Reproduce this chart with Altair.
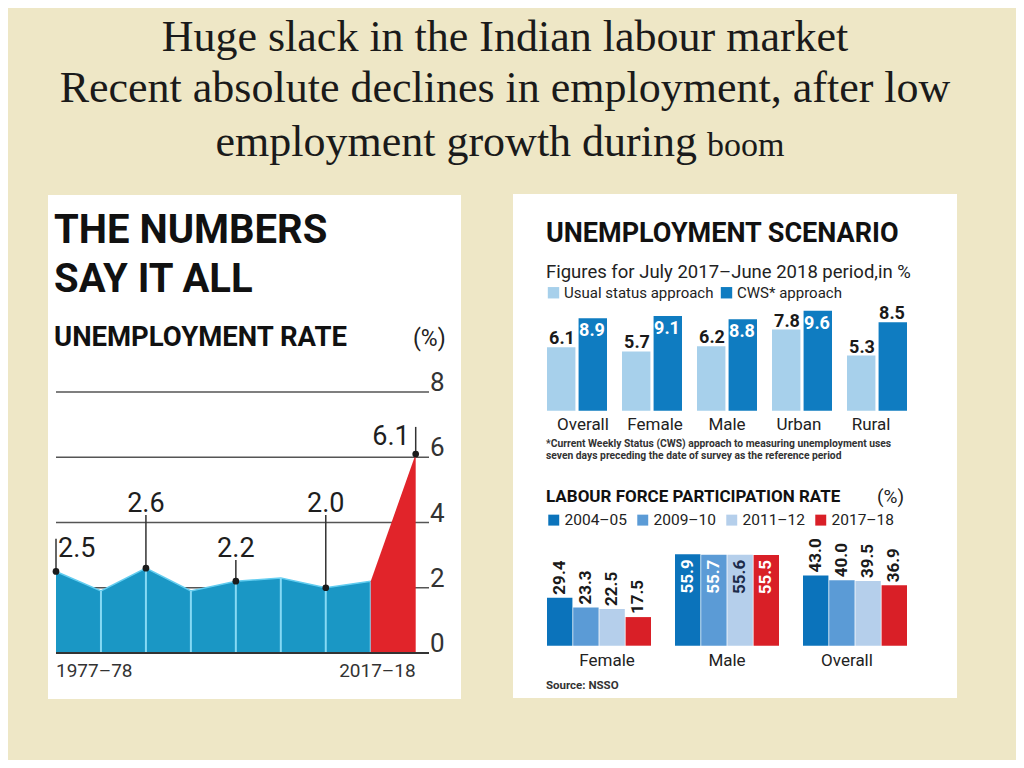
import altair as alt
import pandas as pd

# ---------------- data ----------------
periods = ["1977–78", "1983", "1987–88", "1993–94", "1999–2000", "2004–05", "2009–10", "2011–12", "2017–18"]
unemp_rate = [2.5, 1.9, 2.6, 1.9, 2.2, 2.3, 2.0, 2.2, 6.1]
annotated_idx = [0, 2, 4, 6, 8]
annotation_level = [2.95, 4.33, 2.95, 4.33, 6.38]   # height (in %) of each value label
grid_ticks = [0, 2, 4, 6, 8]

scen_cats = ["Overall", "Female", "Male", "Urban", "Rural"]
scen_series = ["Usual status approach", "CWS* approach"]
usual_status = [6.1, 5.7, 6.2, 7.8, 5.3]
cws_status = [8.9, 9.1, 8.8, 9.6, 8.5]

lfpr_groups = ["Female", "Male", "Overall"]
lfpr_years = ["2004–05", "2009–10", "2011–12", "2017–18"]
lfpr_2004 = [29.4, 55.9, 43.0]
lfpr_2009 = [23.3, 55.7, 40.0]
lfpr_2011 = [22.5, 55.6, 39.5]
lfpr_2017 = [17.5, 55.5, 36.9]

# ---------------- tables ----------------
rate_df = pd.DataFrame({"idx": list(range(len(periods))), "period": periods, "v": unemp_rate})
ann_df = pd.DataFrame({
    "idx": annotated_idx,
    "v": [unemp_rate[i] for i in annotated_idx],
    "level": annotation_level,
})
ann_df["pos"] = ["first"] + ["mid"] * (len(annotated_idx) - 2) + ["last"]
ann_df["lead_top"] = [lv + 0.55 if p != "mid" else lv - 0.1 for lv, p in zip(ann_df["level"], ann_df["pos"])]
grid_df = pd.DataFrame({"tick": grid_ticks})
end_df = pd.DataFrame({"idx": [0, len(periods) - 1], "period": [periods[0], periods[-1]]})

scen_df = pd.DataFrame({
    "cat": scen_cats * 2,
    "series": [scen_series[0]] * len(scen_cats) + [scen_series[1]] * len(scen_cats),
    "v": usual_status + cws_status,
})
lfpr_vals = [lfpr_2004, lfpr_2009, lfpr_2011, lfpr_2017]
lfpr_df = pd.DataFrame({
    "grp": [g for _ in lfpr_years for g in lfpr_groups],
    "year": [y for y in lfpr_years for _ in lfpr_groups],
    "v": [v for vals in lfpr_vals for v in vals],
})

# ---------------- styling ----------------
NARROW = "Roboto, Liberation Sans, sans-serif"
SERIF = "Liberation Serif, DejaVu Serif, serif"
M = 8  # page margin


def txt(s, x, y, size, weight="normal", font=NARROW, align="left", color="#111111", baseline="alphabetic"):
    return alt.Chart(alt.Data(values=[{"t": s}])).mark_text(
        align=align, baseline=baseline, font=font, fontSize=size, fontWeight=weight, color=color
    ).encode(x=alt.value(x - M), y=alt.value(y - M), text="t:N")


def panel(x0, y0, x1, y1):
    return alt.Chart(alt.Data(values=[{"p": 1}])).mark_rect(color="white").encode(
        x=alt.value(x0 - M), x2=alt.value(x1 - M), y=alt.value(y0 - M), y2=alt.value(y1 - M)
    )


# ---------------- slide title ----------------
title_layers = [
    txt("Huge slack in the Indian labour market", 505, 51, 44, font=SERIF, align="center", color="#1a1a1a"),
    txt("Recent absolute declines in employment, after low", 505, 102, 44, font=SERIF, align="center", color="#1a1a1a"),
    txt("employment growth during", 697, 156, 44, font=SERIF, align="right", color="#1a1a1a"),
    txt("boom", 707, 156, 34, font=SERIF, align="left", color="#1a1a1a"),
]

# ---------------- left panel: unemployment rate ----------------
LX = alt.Scale(domain=[0, 8], range=[56 - M, 415.7 - M], nice=False, zero=False)
LY = alt.Scale(domain=[0, 8], range=[653 - M, 392 - M], nice=False, zero=False)

lbase = alt.Chart(rate_df)
left_grid = alt.Chart(grid_df).mark_rule(color="#555555", strokeWidth=1.5).encode(
    x=alt.value(56 - M), x2=alt.value(429 - M), y=alt.Y("tick:Q", scale=LY, axis=None)
)
left_ticklab = alt.Chart(grid_df).mark_text(
    align="left", baseline="alphabetic", font=NARROW, fontSize=26, color="#333333", dy=-1
).encode(x=alt.value(430 - M), y=alt.Y("tick:Q", scale=LY, axis=None), text="tick:Q")

blue_area = lbase.mark_area(color="#1a97c5", opacity=1).encode(
    x=alt.X("idx:Q", scale=LX, axis=None), y=alt.Y("v:Q", scale=LY, axis=None)
).transform_filter("datum.idx <= 7")
blue_edge = lbase.mark_line(color="#63cdf0", strokeWidth=1.5).encode(
    x=alt.X("idx:Q", scale=LX, axis=None), y=alt.Y("v:Q", scale=LY, axis=None)
).transform_filter("datum.idx <= 7")
sep_rules = lbase.mark_rule(color="#86d9f4", strokeWidth=2).encode(
    x=alt.X("idx:Q", scale=LX, axis=None), y=alt.Y("v:Q", scale=LY, axis=None), y2=alt.datum(0)
).transform_filter("datum.idx >= 1 && datum.idx <= 7")
red_area = lbase.mark_area(color="#e1242a", opacity=1).encode(
    x=alt.X("idx:Q", scale=LX, axis=None), y=alt.Y("v:Q", scale=LY, axis=None)
).transform_filter("datum.idx >= 7")
base_line = alt.Chart(grid_df).mark_rule(color="#333333", strokeWidth=2).encode(
    x=alt.value(56 - M), x2=alt.value(429 - M), y=alt.Y("tick:Q", scale=LY, axis=None)
).transform_filter("datum.tick == 0")

leaders = alt.Chart(ann_df).mark_rule(color="#333333", strokeWidth=1.5).encode(
    x=alt.X("idx:Q", scale=LX, axis=None),
    y=alt.Y("v:Q", scale=LY, axis=None),
    y2="lead_top:Q",
)
dots = alt.Chart(ann_df).mark_circle(size=45, color="#1b1b1b", opacity=1).encode(
    x=alt.X("idx:Q", scale=LX, axis=None), y=alt.Y("v:Q", scale=LY, axis=None)
)


def ann_text(pos, align, dx):
    return alt.Chart(ann_df).mark_text(
        align=align, baseline="alphabetic", font=NARROW, fontSize=27, color="#1e1e1e", dx=dx
    ).encode(
        x=alt.X("idx:Q", scale=LX, axis=None),
        y=alt.Y("level:Q", scale=LY, axis=None),
        text=alt.Text("v:Q", format=".1f"),
    ).transform_filter(alt.datum.pos == pos)


def end_label(which, align):
    return alt.Chart(end_df).mark_text(
        align=align, baseline="alphabetic", font=NARROW, fontSize=19, color="#333333"
    ).encode(
        x=alt.X("idx:Q", scale=LX, axis=None), y=alt.value(677 - M), text="period:N",
    ).transform_filter(f"datum.idx == {which}")


left_layers = [
    panel(48, 195, 461, 699),
    txt("THE NUMBERS", 54, 243, 40, weight="bold"),
    txt("SAY IT ALL", 54, 292, 40, weight="bold"),
    txt("UNEMPLOYMENT RATE", 54, 346, 27.5, weight="bold"),
    txt("(%)", 413, 346, 23, color="#222222"),
    left_grid, left_ticklab,
    blue_area, blue_edge, sep_rules, red_area, base_line,
    leaders, dots,
    ann_text("first", "left", 2), ann_text("mid", "center", 0), ann_text("last", "right", -6),
    end_label(0, "left"), end_label(len(periods) - 1, "right"),
]

# ---------------- right panel: unemployment scenario ----------------
UX = alt.Scale(domain=scen_cats, range=[547 - M, 907 - M], paddingInner=0.2, paddingOuter=0)
UXO = alt.Scale(domain=scen_series, paddingInner=0.1)
UY = alt.Scale(domain=[0, 10], range=[410.7 - M, 306.7 - M], nice=False, zero=False)
UC = alt.Scale(domain=scen_series, range=["#a7d0eb", "#0f7cc1"])

sbase = alt.Chart(scen_df)
sx = alt.X("cat:N", scale=UX, axis=None)
sxo = alt.XOffset("series:N", scale=UXO)
sy = alt.Y("v:Q", scale=UY, axis=None)

scen_bars = sbase.mark_bar().encode(
    x=sx, xOffset=sxo, y=sy, y2=alt.datum(0),
    color=alt.Color("series:N", scale=UC, legend=alt.Legend(
        orient="none", legendX=546 - M, legendY=285 - M, direction="horizontal", title=None,
        symbolType="square", symbolSize=130, symbolStrokeWidth=0, symbolOpacity=1,
        labelFont=NARROW, labelFontSize=15, labelColor="#222222", labelOffset=3,
        columnPadding=5, labelLimit=300,
    )),
)
scen_lab_above = sbase.mark_text(
    baseline="alphabetic", font=NARROW, fontSize=18, fontWeight="bold", color="#1a1a1a", dy=-3
).encode(x=sx, xOffset=sxo, y=sy, text=alt.Text("v:Q", format=".1f")).transform_filter(
    "datum.series == 'Usual status approach' || datum.cat == 'Rural'"
)
scen_lab_inside = sbase.mark_text(
    baseline="top", font=NARROW, fontSize=18, fontWeight="bold", color="white", dy=4
).encode(x=sx, xOffset=sxo, y=sy, text=alt.Text("v:Q", format=".1f")).transform_filter(
    "datum.series == 'CWS* approach' && datum.cat != 'Rural'"
)
scen_cat_lab = alt.Chart(pd.DataFrame({"cat": scen_cats})).mark_text(
    baseline="alphabetic", font=NARROW, fontSize=17, color="#222222"
).encode(x=sx, y=alt.value(430 - M), text="cat:N")

# ---------------- right panel: LFPR ----------------
PX = alt.Scale(domain=lfpr_groups, range=[547 - M, 907 - M], paddingInner=0.1875, paddingOuter=0)
PXO = alt.Scale(domain=lfpr_years, paddingInner=0.03)
PY = alt.Scale(domain=[0, 60], range=[645.7 - M, 547.6 - M], nice=False, zero=False)
PC = alt.Scale(domain=lfpr_years, range=["#0b73bb", "#5b9bd6", "#b5cfeb", "#d91f27"])

pbase = alt.Chart(lfpr_df)
px_ = alt.X("grp:N", scale=PX, axis=None)
pxo = alt.XOffset("year:N", scale=PXO)
py = alt.Y("v:Q", scale=PY, axis=None)

lfpr_bars = pbase.mark_bar().encode(
    x=px_, xOffset=pxo, y=py, y2=alt.datum(0),
    color=alt.Color("year:N", scale=PC, legend=alt.Legend(
        orient="none", legendX=546 - M, legendY=512 - M, direction="horizontal", title=None,
        symbolType="square", symbolSize=120, symbolStrokeWidth=0, symbolOpacity=1,
        labelFont=NARROW, labelFontSize=15.5, labelColor="#222222", labelOffset=3,
        columnPadding=8, labelLimit=300,
    )),
)
lfpr_lab_above = pbase.mark_text(
    angle=270, align="left", baseline="middle", font=NARROW, fontSize=17, fontWeight="bold",
    color="#1a1a1a", dx=3
).encode(x=px_, xOffset=pxo, y=py, text=alt.Text("v:Q", format=".1f")).transform_filter(
    "datum.grp != 'Male'"
)
lfpr_lab_inside = pbase.mark_text(
    angle=270, align="right", baseline="middle", font=NARROW, fontSize=17, fontWeight="bold", dx=-5
).encode(
    x=px_, xOffset=pxo, y=py, text=alt.Text("v:Q", format=".1f"),
    color=alt.condition("datum.year == '2011–12'", alt.value("#1c2b4a"), alt.value("white")),
).transform_filter("datum.grp == 'Male'")
lfpr_cat_lab = alt.Chart(pd.DataFrame({"grp": lfpr_groups})).mark_text(
    baseline="alphabetic", font=NARROW, fontSize=17, color="#222222"
).encode(x=px_, y=alt.value(666 - M), text="grp:N")

right_layers = [
    panel(513, 194, 957, 698),
    txt("UNEMPLOYMENT SCENARIO", 546, 242, 27, weight="bold"),
    txt("Figures for July 2017–June 2018 period,in %", 546, 278, 18.5, color="#222222"),
    scen_bars, scen_lab_above, scen_lab_inside, scen_cat_lab,
    txt("*Current Weekly Status (CWS) approach to measuring unemployment uses", 546, 447, 10.3,
        weight="bold", color="#333333"),
    txt("seven days preceding the date of survey as the reference period", 546, 459, 10.3,
        weight="bold", color="#333333"),
    txt("LABOUR FORCE PARTICIPATION RATE", 546, 502, 17, weight="bold"),
    txt("(%)", 877, 503, 19, color="#222222"),
    lfpr_bars, lfpr_lab_above, lfpr_lab_inside, lfpr_cat_lab,
    txt("Source: NSSO", 546, 689, 11.5, weight="bold", color="#333333"),
]

chart = alt.layer(*title_layers, *left_layers, *right_layers).properties(
    width=1024 - 2 * M, height=768 - 2 * M,
    autosize=alt.AutoSizeParams(type="none"),
    padding=0,
    background="#eee7c6",
).resolve_scale(
    x="independent", y="independent", color="independent", xOffset="independent"
).configure_view(stroke=None)

chart.save("out.html", embed_options={"renderer": "svg", "actions": False})
